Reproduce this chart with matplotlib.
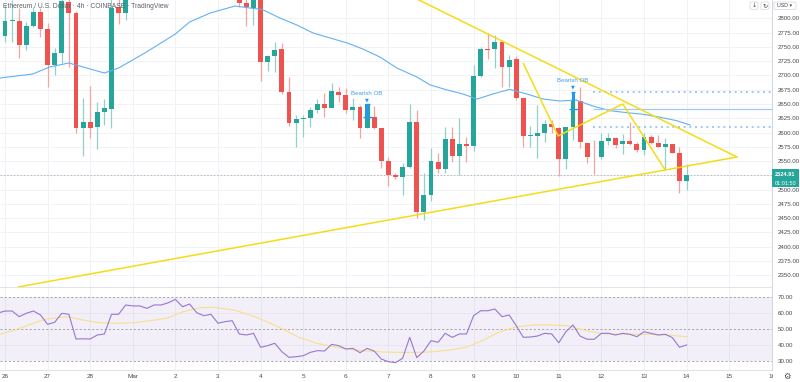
import numpy as np
import matplotlib.pyplot as plt
from matplotlib.patches import Rectangle, FancyBboxPatch

plt.rcParams['font.family'] = ['Liberation Sans', 'DejaVu Sans']

# 4h candles, index 0 = Feb 26 00:00
idx = list(range(-1, 97))
o = [2700, 2769.5, 2794.7, 2795.2, 2753.2, 2787, 2810.5, 2781.2, 2718.2, 2738.7,
     2829, 2809.8, 2608.4, 2617.8, 2609.6, 2635.4, 2641.7, 2819.2, 2809.8, 2865,
     2895, 2920, 2905, 2940, 2930, 2965, 2985, 2950, 2970, 2930,
     2920, 2935, 2895, 2905, 2860, 2827, 2818, 2850, 2724, 2734,
     2745.7, 2670.9, 2617.2, 2623.1, 2625.9, 2639.4, 2649.4, 2643.4, 2671.4, 2665.7,
     2639.4, 2645.2, 2608.4, 2627.7, 2607.9, 2550.1, 2525.6, 2521.5, 2539.1, 2617.8,
     2461.3, 2490.6, 2548.9, 2536.1, 2588.6, 2559.4, 2579.9, 2576.9, 2698.9, 2745.7,
     2746.2, 2759, 2715.2, 2728.2, 2659.9, 2594.4, 2594.4, 2598.6, 2614.3, 2607.3,
     2553.6, 2610.2, 2655.2, 2581.1, 2557.6, 2556.6, 2585.1, 2589.8, 2579.9, 2585.1,
     2579.9, 2569.4, 2592.6, 2581.1, 2575.1, 2579.9, 2563.6, 2515.6]
h = [2780, 2823, 2832, 2817.5, 2794, 2820.3, 2817.5, 2791.2, 2747.4, 2840,
     2838, 2812, 2659.9, 2681.4, 2652.9, 2658.7, 2834, 2834, 2880, 2905,
     2935, 2930, 2955, 2960, 2975, 3000, 2990, 2980, 2975, 2945,
     2950, 2940, 2915, 2910, 2870, 2845, 2860, 2855, 2735, 2759,
     2756.2, 2697.7, 2630.6, 2630.6, 2645.2, 2659.2, 2668.6, 2686.1, 2679.1, 2677.4,
     2659.9, 2648.1, 2649.4, 2646.4, 2608, 2557.6, 2528.5, 2546.1, 2649.9, 2639.4,
     2528.5, 2572.3, 2563.6, 2610.2, 2610.2, 2624.9, 2592.6, 2718.2, 2750.2, 2773.7,
     2770.7, 2759, 2735.7, 2734, 2659.9, 2611.4, 2648.1, 2621.9, 2621.9, 2610.2,
     2610.2, 2671.4, 2680.2, 2581.1, 2586.9, 2598.6, 2599.6, 2591.6, 2597.4, 2618.9,
     2582.8, 2598.6, 2595.6, 2595.6, 2589.8, 2579.9, 2575.1, 2544.8]
l = [2680, 2759, 2759, 2730, 2744.5, 2785.3, 2766.7, 2680.2, 2700.7, 2721.7,
     2715.2, 2599.6, 2559.4, 2590.9, 2571.1, 2613.1, 2608.4, 2790, 2797, 2850,
     2880, 2890, 2895, 2915, 2920, 2950, 2935, 2940, 2915, 2900,
     2905, 2880, 2880, 2850, 2819, 2786, 2788, 2691, 2708.2, 2706.5,
     2667.4, 2611.4, 2575.1, 2591.6, 2610.2, 2633.6, 2627.7, 2642.4, 2653.9, 2634.7,
     2621.9, 2590.9, 2607.3, 2605.6, 2537.3, 2506.3, 2518, 2490.6, 2537.3, 2449.8,
     2446.8, 2480, 2529.6, 2528.5, 2548.9, 2525.6, 2548.9, 2568.1, 2697.7, 2728.2,
     2712.4, 2680.2, 2680.2, 2656.9, 2574, 2575.1, 2554.8, 2583.9, 2598.6, 2524.4,
     2536.1, 2586.9, 2572.3, 2546.1, 2527.3, 2553, 2578.1, 2572.3, 2562.3, 2578.1,
     2566.4, 2560.6, 2579.9, 2574, 2534.3, 2563.6, 2493.5, 2499.3]
c = [2774, 2795.2, 2796.5, 2753.2, 2786.5, 2810.5, 2780.7, 2718.2, 2738.7, 2830,
     2809.8, 2608.4, 2617.8, 2608.4, 2635.4, 2642.9, 2817.5, 2809.8, 2865, 2895,
     2920, 2905, 2940, 2930, 2965, 2985, 2950, 2970, 2930, 2920,
     2935, 2895, 2905, 2860, 2827.3, 2819.2, 2850, 2724, 2734, 2744.5,
     2670.4, 2616.1, 2623.1, 2625.9, 2639.4, 2649.9, 2643.4, 2672.7, 2666.2, 2639.4,
     2645.2, 2608.4, 2649.4, 2607.3, 2550.1, 2525.6, 2521.5, 2539.1, 2617.8, 2461.3,
     2490.6, 2550.1, 2536.1, 2588.6, 2559.4, 2579.9, 2576.4, 2698.9, 2746.2, 2745,
     2759, 2715.2, 2726.9, 2659.9, 2594.4, 2595.6, 2598.6, 2614.3, 2609.1, 2553.6,
     2610.2, 2655.2, 2582.8, 2557.6, 2556.6, 2585.1, 2589.8, 2578.1, 2585.6, 2579.9,
     2569.4, 2592.6, 2581.1, 2575.1, 2579.9, 2563.6, 2515.6, 2524.91]

# moving average on price
ma_idx = [-0.7, 3.9, 6.3, 9.0, 12.0, 14.0, 16.0, 19.7, 24.0, 26.0, 28.9, 32.4, 36.3,
          38.7, 41.1, 43.4, 45.8, 48.2, 50.4, 52.8, 55.2, 58.0, 59.9, 62.3, 64.5, 66.5,
          68.7, 71.1, 73.5, 75.8, 78.2, 80.4, 82.8, 85.2, 87.6, 89.9, 92.3, 94.6, 96.5]
ma_val = [2695.4, 2702.4, 2714.7, 2721.7, 2711.2, 2704.2, 2712.9, 2739.2, 2772.5, 2793.5,
          2809.2, 2821.5, 2815.0, 2800.5, 2788.2, 2774.2, 2765.5, 2756.7, 2746.2, 2732.2,
          2712.9, 2697.2, 2683.2, 2674.4, 2667.4, 2658.6, 2667.4, 2675.6, 2667.4, 2658.6,
          2655.1, 2656.9, 2646.4, 2638.2, 2634.7, 2631.9, 2626.6, 2620.7, 2613.1]

rsi = [60.0, 61.2, 61.25, 57.7, 59.8, 61.25, 58.75, 52.9, 54.2, 59.8, 59.2,
       43.75, 43.9, 43.75, 46.25, 46.9, 59.2, 59.2, 65.0, 64.4, 64.4,
       62.9, 65.0, 65.0, 66.4, 68.5, 63.9, 65.6, 60.2, 58.3, 59.2,
       53.6, 54.6, 55.2, 46.9, 46.25, 47.3, 38.6, 39.6, 41.1, 35.8,
       32.3, 32.7, 33.3, 35.4, 36.5, 36.25, 40.4, 39.6, 37.5, 37.9,
       35.2, 37.9, 36.25, 31.25, 29.6, 29.0, 31.7, 44.8, 32.1, 36.25,
       42.7, 41.7, 47.3, 44.8, 46.9, 46.9, 58.3, 61.4, 61.4, 62.5,
       57.7, 58.75, 52.1, 44.8, 45.0, 45.6, 47.3, 46.9, 41.4, 48.3,
       52.5, 45.6, 43.6, 43.6, 47.3, 47.3, 46.25, 47.3, 46.7, 45.2,
       48.3, 47.3, 46.25, 46.7, 44.6, 38.6, 40.0]
rsi_ma_idx = [-0.7, 1.65, 4.0, 5.9, 8.7, 11.0, 13.4, 15.7, 18.1, 20.4, 22.8, 25.1, 27.5,
              29.3, 32.2, 34.5, 36.9, 39.2, 41.5, 43.9, 46.2, 48.6, 50.9, 53.3, 55.6, 58.0,
              60.3, 62.7, 65.0, 67.4, 69.7, 72.1, 74.4, 76.8, 79.1, 81.5, 83.8, 86.2, 88.5,
              90.8, 93.2, 96.0]
rsi_ma_val = [46.7, 49.8, 53.6, 56.25, 57.7, 55.6, 53.9, 53.6, 53.9, 55.2, 56.7, 60.8, 63.3,
              63.6, 61.9, 58.75, 54.6, 49.8, 44.6, 41.1, 39.0, 37.3, 36.25, 35.6, 35.4, 35.4,
              35.8, 36.9, 38.6, 43.1, 48.3, 51.4, 52.5, 52.5, 52.1, 49.4, 47.3, 46.7, 46.7,
              46.7, 46.25, 45.2]

# drawings
tri_lower = [(1.83, 2329.5), (103.1, 2557.1)]
tri_upper = [(57.0, 2840.0), (103.1, 2557.1)]
zigzag = [(73.0, 2721.2), (77.9, 2594.0), (87.0, 2649.9), (93.0, 2534.3)]
ob_levels = [2671.4, 2640.6, 2610.2]
ob_marks = [(51, 2649.4, 2627.7, 2627.7), (80, 2671.4, 2655.2, 2640.6)]
day_labels = ['26', '27', '28', 'Mar', '2', '3', '4', '5', '6', '7', '8', '9',
              '10', '11', '12', '13', '14', '15', '16']
last_price = 2524.91

UP, DN = '#26a69a', '#ef5350'
W, H = 800, 382


def box(x0, y0, x1, y1):
    return [x0 / W, 1 - y1 / H, (x1 - x0) / W, (y1 - y0) / H]


fig = plt.figure(figsize=(8, 3.82), dpi=100)
ax = fig.add_axes(box(0, 0, 772, 287))
rx = fig.add_axes(box(0, 288, 772, 370), sharex=ax)

xmin, xmax = -0.704, 108.03
ax.set_xlim(xmin, xmax)
ax.set_ylim(2329.5, 2832)
rx.set_ylim(24.4, 75.6)

days = np.arange(0, 109, 6)
for a in (ax, rx):
    a.set_xticks(days)
    for x in days:
        a.axvline(x, color='#f0f2f6', lw=0.7, zorder=0)
    for s in ['top', 'left']:
        a.spines[s].set_visible(False)
    a.spines['right'].set_color('#d6d8de')
    a.spines['right'].set_linewidth(0.8)
    a.spines['bottom'].set_color('#e0e3eb')
    a.spines['bottom'].set_linewidth(0.8)
    a.yaxis.tick_right()
    a.tick_params(axis='y', length=0, pad=4, labelsize=4.4, labelcolor='#4a4a4a')
ax.tick_params(axis='x', length=0, labelbottom=False)
rx.tick_params(axis='x', length=0, pad=3, labelsize=4.6, labelcolor='#4a4a4a')
rx.set_xticklabels(day_labels)

yt = np.arange(2350, 2801, 25)
for v in yt:
    ax.axhline(v, color='#f0f2f6', lw=0.7, zorder=0)
# the 2525 label sits under the last price tag
yt_shown = [v for v in yt if v != 2525]
ax.set_yticks(yt_shown)
ax.set_yticklabels([f'{v:.2f}' for v in yt_shown])

# candles
for i, op, hi, lo, cl in zip(idx, o, h, l, c):
    col = UP if cl >= op else DN
    wcol = '#93d0c9' if cl >= op else '#f4a3a1'
    ax.vlines(i, lo, hi, color=wcol, lw=0.9, zorder=2)
    ax.bar(i, max(abs(cl - op), 1.2), bottom=min(op, cl), width=0.68, color=col, zorder=3)

ax.plot(ma_idx, ma_val, color='#64b0f4', lw=0.8, zorder=4)
ax.axhline(last_price, color='#b2b5be', lw=0.6, dashes=(2, 2), zorder=1)

# OB zone lines
ax.hlines(ob_levels[0], 82.8, xmax, color='#8ec2f5', lw=1.2, linestyles=(0, (1.2, 2.2)), zorder=4)
ax.hlines(ob_levels[2], 82.8, xmax, color='#8ec2f5', lw=1.2, linestyles=(0, (1.2, 2.2)), zorder=4)
ax.hlines(ob_levels[1], 82.8, xmax, color='#9ccbf6', lw=0.9, zorder=4)

for i, top, bot, mid in ob_marks:
    ax.vlines(i, bot, top, color='#2196f3', lw=2.2, zorder=6)
    ax.hlines(top, i - 0.35, i + 0.35, color='#2196f3', lw=1.0, zorder=6)
    ax.hlines(mid, i - 0.55, i + 0.75, color='#2196f3', lw=1.0, zorder=6)
    ax.text(i, top + 8.5, '\u25bc', color='#2196f3', fontsize=3.6, ha='center', va='center',
            family='DejaVu Sans', zorder=6)
    ax.text(i, top + 19, 'Bearish OB', color='#4a9bef', fontsize=4.4, ha='center', va='center', zorder=6)

# yellow drawings
yel = '#f5dc14'
for pts in (tri_lower, tri_upper, zigzag):
    xs, ys = zip(*pts)
    ax.plot(xs, ys, color=yel, lw=1.1, zorder=5, solid_capstyle='round')

# RSI pane
rx.axhspan(30, 70, color='#7e57c2', alpha=0.09, lw=0, zorder=0)
for v in (40, 60):
    rx.axhline(v, color='#e6e2f0', lw=0.6, zorder=0)
for v in (30, 50, 70):
    rx.axhline(v, color='#9598a1', lw=0.6, dashes=(2.5, 2.5), zorder=1)
rx.set_yticks([30, 40, 50, 60, 70])
rx.set_yticklabels(['30.00', '40.00', '50.00', '60.00', '70.00'])
rx.plot(rsi_ma_idx, rsi_ma_val, color='#f6e08c', lw=0.8, zorder=2)
rx.plot(idx, rsi, color='#9578d0', lw=0.8, zorder=3)

# header text and widgets
fig.text(3 / W, 1 - 6.5 / H, 'Ethereum / U.S. Dollar \u00b7 4h \u00b7 COINBASE \u00b7 TradingView',
         fontsize=4.9, color='#5d606b', va='center', ha='left')
for x0, g in ((750, '\u2193'), (761, '\u21bb')):
    fig.patches.append(FancyBboxPatch((x0 / W, 1 - 9.5 / H), 8 / W, 7.5 / H,
                                      boxstyle='round,pad=0,rounding_size=0.003',
                                      transform=fig.transFigure, fc='white', ec='#d1d4dc', lw=0.5))
    fig.text((x0 + 4) / W, 1 - 5.8 / H, g, fontsize=4.5, color='#4a4a4a', ha='center', va='center',
             family='DejaVu Sans')
fig.patches.append(FancyBboxPatch((774 / W, 1 - 9.5 / H), 22 / W, 7.5 / H,
                                  boxstyle='round,pad=0,rounding_size=0.003',
                                  transform=fig.transFigure, fc='white', ec='#d1d4dc', lw=0.5))
fig.text(785 / W, 1 - 5.8 / H, 'USD \u25be', fontsize=3.8, color='#4a4a4a', ha='center', va='center',
         family=['Liberation Sans', 'DejaVu Sans'])

# last price tag
fig.patches.append(Rectangle((772 / W, 1 - 187.5 / H), 27 / W, 18 / H, transform=fig.transFigure,
                             fc='#26a69a', ec='none', zorder=5))
fig.text(785.5 / W, 1 - 174 / H, f'{last_price:.2f}', fontsize=4.1, color='white',
         ha='center', va='center', fontweight='bold', zorder=6)
fig.text(785.5 / W, 1 - 183.2 / H, '01:01:50', fontsize=4.0, color='white',
         ha='center', va='center', zorder=6)

# cover for the clipped last day label, then the settings gear
fig.patches.append(Rectangle((773 / W, 0), 27 / W, 11.5 / H, transform=fig.transFigure,
                             fc='white', ec='none', zorder=5))
fig.text(787 / W, 1 - 376 / H, '\u2699', fontsize=6, color='#4a4a4a', ha='center', va='center',
         family='DejaVu Sans', zorder=6)

fig.savefig('out.png', dpi=100)
